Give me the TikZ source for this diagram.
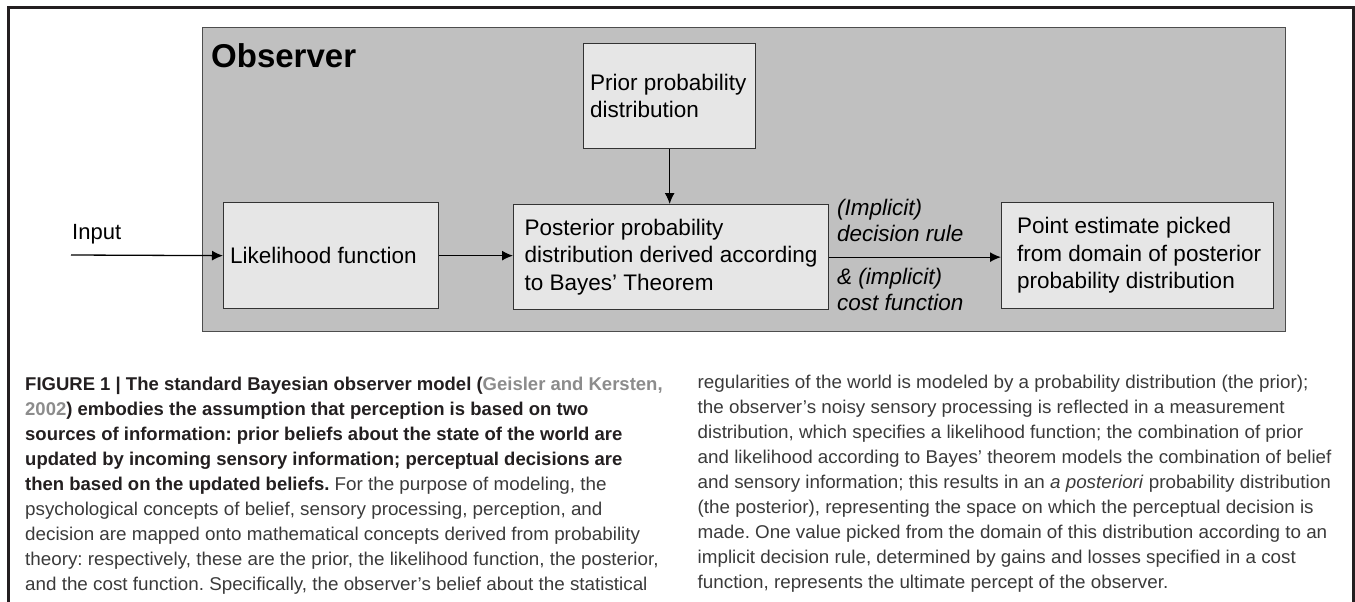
\documentclass[tikz,border=0pt]{standalone}
\usepackage{fontspec}
\setmainfont{Liberation Sans}
\newfontfamily\capfont{Liberation Sans}[FakeStretch=1.017]
\newfontfamily\capbfont{Liberation Sans}
\usetikzlibrary{arrows.meta}
\definecolor{framecol}{HTML}{231F20}
\definecolor{obsfill}{HTML}{C0C0C0}
\definecolor{obsdraw}{HTML}{4D4D4D}
\definecolor{boxfill}{HTML}{E6E6E6}
\definecolor{boxdraw}{HTML}{333333}
\definecolor{capbold}{HTML}{231F20}
\definecolor{captext}{HTML}{3A3A3A}
\definecolor{citegray}{HTML}{8C8C8C}
\frenchspacing
\newcommand{\bcap}{\capbfont\bfseries\color{capbold}}
\begin{document}
\begin{tikzpicture}[x=1pt,y=-1pt,
  box/.style={draw=boxdraw, line width=1.3pt, fill=boxfill, inner sep=0pt, anchor=north west},
  boxtext/.style={anchor=west, inner sep=0pt, align=left, font=\fontsize{22.5}{27.5}\selectfont},
  lbl/.style={anchor=west, inner sep=0pt, align=left, font=\fontsize{22.5}{26}\selectfont\itshape},
  conn/.style={line width=1.3pt, -{Latex[length=11pt,width=10pt]}},
  capl/.style={anchor=base west, inner sep=0pt, font=\capfont\fontsize{18.5}{25}\selectfont\frenchspacing, text=captext},
]
\useasboundingbox (0,0) rectangle (1355,602);
% outer frame
\draw[framecol, line width=2.7pt] (8.7,610) -- (8.7,7.2) -- (1353.8,7.2) -- (1353.8,610);
% observer box
\node[draw=obsdraw, line width=1pt, fill=obsfill, inner sep=0pt, anchor=north west,
      minimum width=1083, minimum height=303.5] (obs) at (202,27) {};
\node[anchor=base west, inner sep=0pt, font=\fontsize{33}{33}\selectfont\bfseries] (obst) at (211,68) {Observer};
% boxes
\node[box, minimum width=172, minimum height=105] (prior) at (583,43) {};
\node[box, minimum width=215, minimum height=106] (lik) at (223,202) {};
\node[box, minimum width=315, minimum height=105] (post) at (513,204) {};
\node[box, minimum width=272, minimum height=106] (pt) at (1001,202) {};
\node[boxtext] (priort) at ([xshift=7pt]prior.west) {Prior probability\\distribution};
\node[boxtext] (likt) at ([xshift=7pt]lik.west) {Likelihood function};
\node[boxtext] (postt) at ([xshift=11.5pt]post.west) {Posterior probability\\distribution derived according\\to Bayes’ Theorem};
\node[boxtext] (ptt) at ([xshift=16pt]pt.west) {Point estimate picked\\from domain of posterior\\probability distribution};
% input
\coordinate (in) at (71,255);
\node[anchor=base west, inner sep=0pt, font=\fontsize{22}{22}\selectfont] (inl) at (72,239) {Input};
% connectors
\draw[conn] (in) -- (lik.west);
\draw[conn] (lik.east) -- (lik.east -| post.west);
\draw[conn] (prior.south) -- (prior.south |- post.north);
\draw[conn] (post.east) -- (post.east -| pt.west);
% labels
\node[lbl] (l1) at (837,220) {(Implicit)\\decision rule};
\node[lbl] (l2) at (837,289.5) {\&\ (implicit)\\cost function};
% caption left
\node[capl] (c1) at (25,390.5) {\bcap FIGURE 1 | The standard Bayesian observer model (\textcolor{citegray}{Geisler and Kersten,}};
\node[capl] (c2) at (25,415.5) {\bcap \textcolor{citegray}{2002}) embodies the assumption that perception is based on two};
\node[capl] (c3) at (25,440.5) {\bcap sources of information: prior beliefs about the state of the world are};
\node[capl] (c4) at (25,465.5) {\bcap updated by incoming sensory information; perceptual decisions are};
\node[capl] (c5) at (25,490.5) {{\bcap then based on the updated beliefs.} For the purpose of modeling, the};
\node[capl] (c6) at (25,515.5) {psychological concepts of belief, sensory processing, perception, and};
\node[capl] (c7) at (25,540.5) {decision are mapped onto mathematical concepts derived from probability};
\node[capl] (c8) at (25,565.5) {theory: respectively, these are the prior, the likelihood function, the posterior,};
\node[capl] (c9) at (25,590.5) {and the cost function. Specifically, the observer’s belief about the statistical};
% caption right
\node[capl] (d1) at (697.5,388.5) {regularities of the world is modeled by a probability distribution (the prior);};
\node[capl] (d2) at (697.5,413.5) {the observer’s noisy sensory processing is reflected in a measurement};
\node[capl] (d3) at (697.5,438.5) {distribution, which specifies a likelihood function; the combination of prior};
\node[capl] (d4) at (697.5,463.5) {and likelihood according to Bayes’ theorem models the combination of belief};
\node[capl] (d5) at (697.5,488.5) {and sensory information; this results in an \textit{a posteriori} probability distribution};
\node[capl] (d6) at (697.5,513.5) {(the posterior), representing the space on which the perceptual decision is};
\node[capl] (d7) at (697.5,538.5) {made. One value picked from the domain of this distribution according to an};
\node[capl] (d8) at (697.5,563.5) {implicit decision rule, determined by gains and losses specified in a cost};
\node[capl] (d9) at (697.5,588.5) {function, represents the ultimate percept of the observer.};
\end{tikzpicture}
\end{document}
